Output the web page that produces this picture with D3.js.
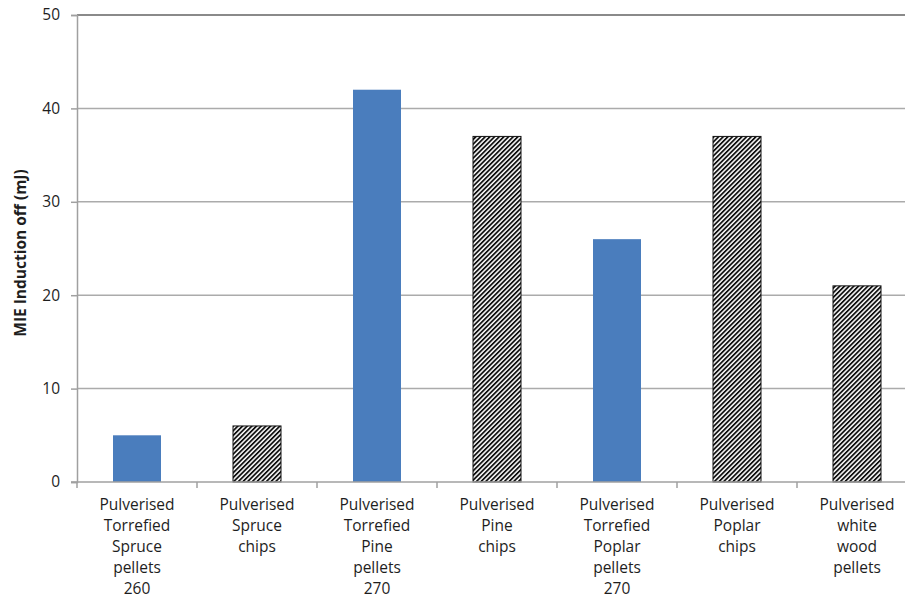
<!DOCTYPE html>
<html>
<head>
<meta charset="utf-8">
<script src="https://cdn.jsdelivr.net/npm/d3@7"></script>
<style>
  html, body { margin: 0; padding: 0; background: #fff; overflow: hidden; }
  svg { display: block; }
  text { font-family: "Open Sans", "Liberation Sans", sans-serif; fill: #1e1e1e; }
</style>
</head>
<body>
<svg id="chart" width="905" height="599"></svg>
<script>
// Minimum ignition energy per sample, induction off
const categories = [
  ["Pulverised", "Torrefied", "Spruce", "pellets", "260"],
  ["Pulverised", "Spruce", "chips"],
  ["Pulverised", "Torrefied", "Pine", "pellets", "270"],
  ["Pulverised", "Pine", "chips"],
  ["Pulverised", "Torrefied", "Poplar", "pellets", "270"],
  ["Pulverised", "Poplar", "chips"],
  ["Pulverised", "white", "wood", "pellets"]
];
const values = [5, 6, 42, 37, 26, 37, 21];
const torrefied = [true, false, true, false, true, false, false];
const yTicks = [0, 10, 20, 30, 40, 50];
const yTitle = "MIE Induction off (mJ)";

const svg = d3.select("#chart");
const margin = { left: 77, top: 15, bottom: 482, right: 917 };

const x = d3.scaleBand()
  .domain(d3.range(values.length))
  .range([margin.left, margin.right])
  .padding(0);
const y = d3.scaleLinear().domain([0, 50]).range([margin.bottom, margin.top]);

// Diagonal hatch for untreated samples
const defs = svg.append("defs");
const pat = defs.append("pattern")
  .attr("id", "hatch")
  .attr("patternUnits", "userSpaceOnUse")
  .attr("width", 3.3).attr("height", 10)
  .attr("patternTransform", "rotate(45)");
pat.append("rect").attr("width", 3.3).attr("height", 10).attr("fill", "#fff");
pat.append("rect").attr("width", 1.8).attr("height", 10).attr("fill", "#111");

// Horizontal gridlines
svg.append("g").selectAll("line")
  .data(yTicks.filter(d => d > 0))
  .join("line")
  .attr("x1", margin.left).attr("x2", margin.right)
  .attr("y1", d => y(d)).attr("y2", d => y(d))
  .attr("stroke", d => d === 50 ? "#8a8a8a" : "#ababab")
  .attr("stroke-width", d => d === 50 ? 2.2 : 1.5);

// Y axis
const yAxis = svg.append("g")
  .attr("transform", `translate(${margin.left},0)`)
  .call(d3.axisLeft(y).tickValues(yTicks).tickSize(6).tickPadding(11));
yAxis.select(".domain").attr("stroke", "#a0a0a0").attr("stroke-width", 1.5);
yAxis.selectAll(".tick line").attr("stroke", "#a0a0a0").attr("stroke-width", 1.5);
yAxis.selectAll(".tick text")
  .style("font-family", "'Open Sans', sans-serif")
  .attr("font-size", 15.5).attr("fill", "#1e1e1e");

// Bars
svg.append("g").selectAll("rect")
  .data(values)
  .join("rect")
  .attr("x", (d, i) => x(i) + x.bandwidth() * 0.3)
  .attr("width", x.bandwidth() * 0.4)
  .attr("y", d => y(d))
  .attr("height", d => y(0) - y(d))
  .attr("fill", (d, i) => torrefied[i] ? "#4a7dbd" : "url(#hatch)")
  .attr("stroke", (d, i) => torrefied[i] ? "none" : "#111")
  .attr("stroke-width", 1);

// X axis baseline and category ticks
const xAxis = svg.append("g")
  .attr("transform", `translate(0,${y(0)})`);
xAxis.append("line")
  .attr("x1", margin.left - 6).attr("x2", margin.right)
  .attr("stroke", "#a0a0a0").attr("stroke-width", 1.5);
xAxis.selectAll("line.tick")
  .data(d3.range(values.length + 1))
  .join("line")
  .attr("class", "tick")
  .attr("x1", i => i < values.length ? x(i) : margin.right)
  .attr("x2", i => i < values.length ? x(i) : margin.right)
  .attr("y1", 0).attr("y2", 6)
  .attr("stroke", "#a0a0a0").attr("stroke-width", 1.5);

// Multi-line category labels
const labels = svg.append("g").selectAll("text")
  .data(categories)
  .join("text")
  .attr("text-anchor", "middle")
  .attr("font-size", 15.5)
  .attr("transform", (d, i) => `translate(${x(i) + x.bandwidth() / 2},${y(0) + 28})`);
labels.selectAll("tspan")
  .data(d => d)
  .join("tspan")
  .attr("x", 0)
  .attr("dy", (d, j) => j === 0 ? 0 : 21)
  .text(d => d);

// Y axis title
svg.append("text")
  .attr("transform", `translate(26,253) rotate(-90)`)
  .attr("text-anchor", "middle")
  .attr("font-size", 15.5)
  .attr("font-weight", "bold")
  .text(yTitle);
</script>
</body>
</html>
